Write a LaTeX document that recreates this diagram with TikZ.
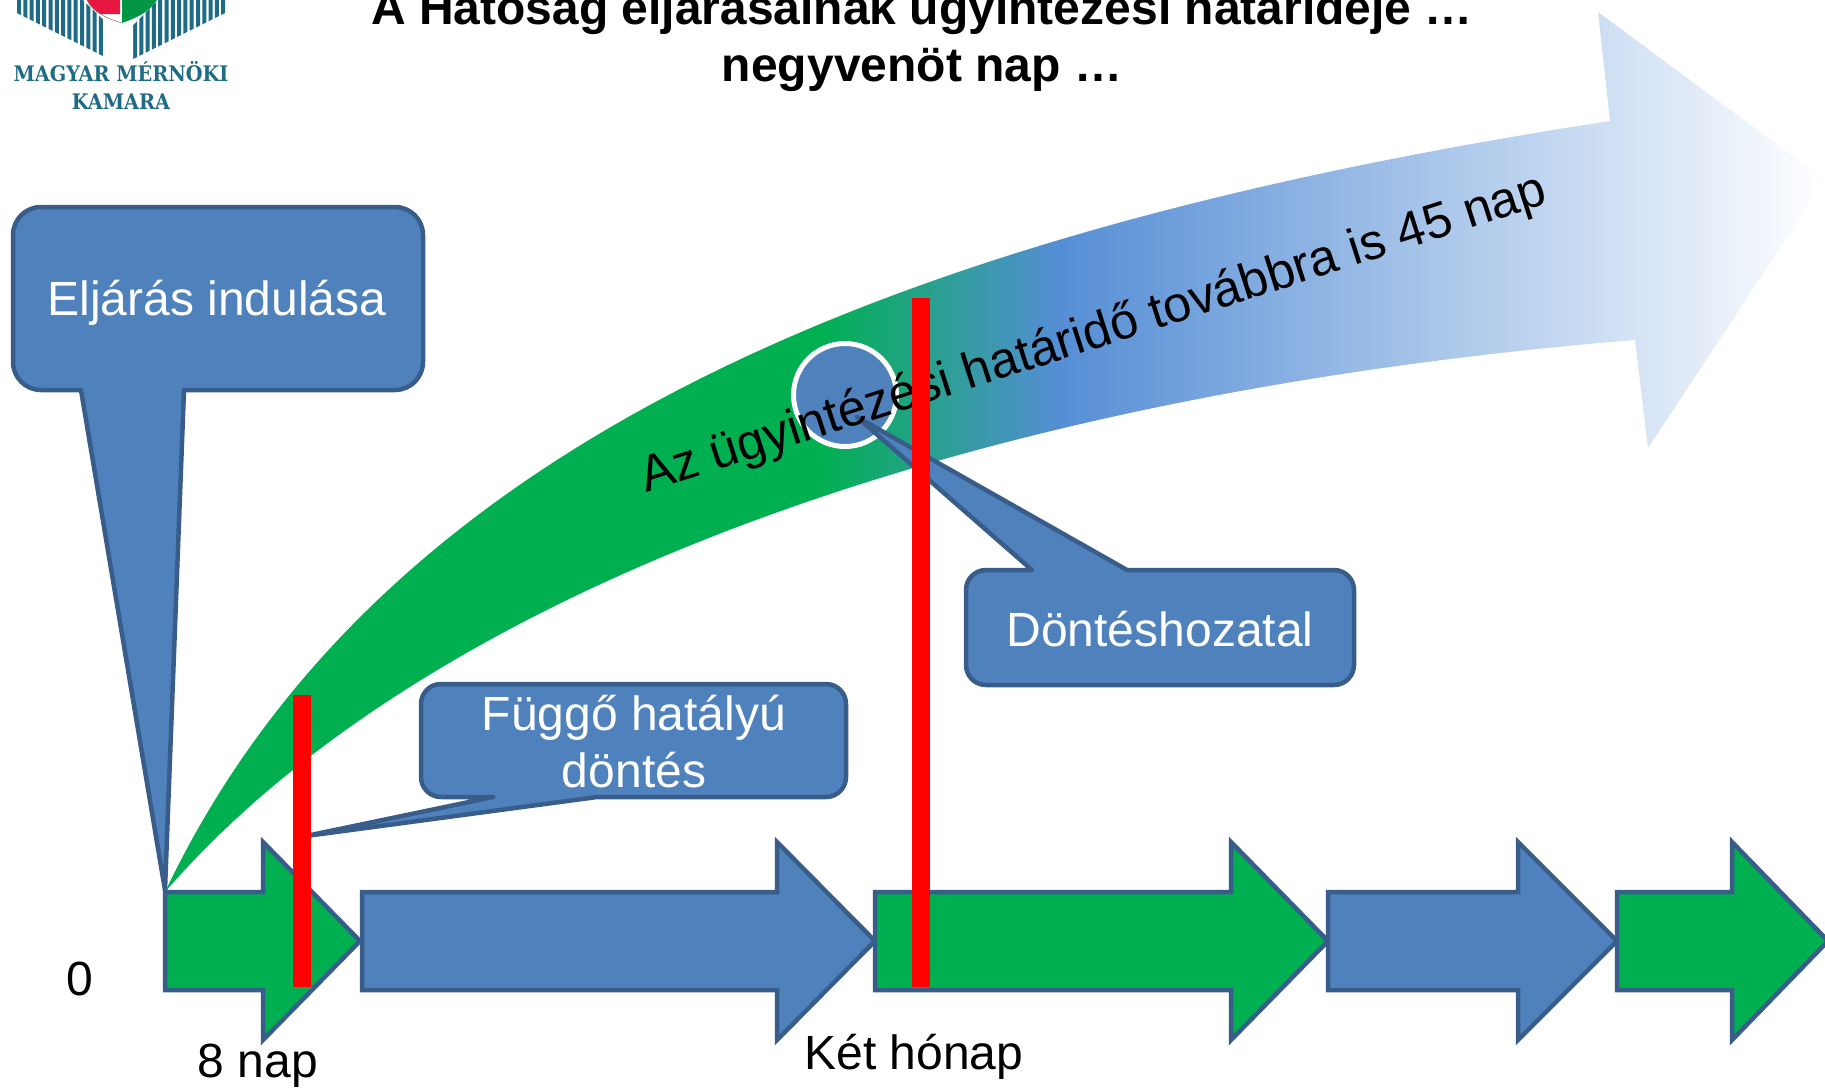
\documentclass[tikz,border=0pt]{standalone}
\usepackage{fontspec}
\setmainfont{Liberation Sans}
\newfontfamily\logofont{DejaVu Serif Condensed}
\usetikzlibrary{positioning}
\definecolor{MMKBlue}{HTML}{4F81BD}
\definecolor{MMKEdge}{HTML}{385D8A}
\definecolor{MMKGreen}{HTML}{00B050}
\definecolor{MMKTeal}{HTML}{1F6A85}
\definecolor{MMKRed}{HTML}{E8173F}
\definecolor{MMKMid}{HTML}{558ED5}
\pgfdeclarehorizontalshading{arrowfade}{100bp}{color(0bp)=(MMKGreen); color(44.7bp)=(MMKGreen); color(51.9bp)=(MMKMid); color(75bp)=(white); color(100bp)=(white)}
\begin{document}
\begin{tikzpicture}[
			x=1pt, y=-1pt,
			callout/.style={draw=MMKEdge, fill=MMKBlue, line width=4.5pt, line join=round},
			blocktext/.style={text=white, align=center, font=\fontsize{48}{57}\selectfont},
			plain/.style={text=black, font=\fontsize{48}{56}\selectfont},
			title/.style={align=center, font=\fontsize{48}{57}\selectfont\bfseries},
			period/.style={draw=MMKEdge, line width=4.5pt, miter limit=10},
			redbar/.style={fill=red},
			stripe/.style={fill=MMKTeal},
			logotext/.style={text=MMKTeal, font=\logofont\bfseries\fontsize{21.4}{26}\selectfont}
			]
			\useasboundingbox (0,0) rectangle (1825,1087);
			\begin{scope}
			\clip (0,0) rectangle (1825,1087);
			% Logo
			\foreach \sx in {17,23.3,...,105} {
				\fill[stripe] (\sx,0) -- (\sx+4,0) -- (\sx+4,{13+(\sx+4-17)*0.5}) -- (\sx,{13+(\sx-17)*0.5}) -- cycle;
			}
			\foreach \sx in {133,139.3,...,222} {
				\fill[stripe] (\sx,0) -- (\sx+4,0) -- (\sx+4,{59-(\sx+4-133)*0.5}) -- (\sx,{59-(\sx-133)*0.5}) -- cycle;
			}
			\fill[white] (83,0) -- (109,25) -- (109,62) -- (133,62) -- (133,25) -- (158,0) -- cycle;
			\fill[MMKRed] (87,0) .. controls (90,6) and (94,10) .. (100,14) -- (120,14) -- (120,0) -- cycle;
			\fill[MMKGreen!85!black] (122,0) -- (157,0) .. controls (150,12) and (136,18) .. (122,23) -- cycle;
			\draw[gray, line width=.6pt] (87,0) .. controls (92,12) and (108,19) .. (122,23);
			\node (logotop) [logotext] at (121,72) {MAGYAR MÉRNÖKI};
			\node (logobottom) [logotext] at (121,102) {KAMARA};
			
			% Title
			\node (title) [title] at (922,40) {A Hatóság eljárásainak ügyintézési határideje …\\negyvenöt nap …};
			
			% Curved arrow
			\path[shade, shading=arrowfade] (165,892) .. controls (380,440) and (900,230) .. (1610,121) -- (1598,12) -- (1825,180) -- (1648,448) -- (1635,340) .. controls (900,400) and (400,620) .. (165,892) -- cycle;
			\node (decision) [circle, draw=white, fill=MMKBlue, line width=5pt, minimum size=103pt] at (845,395) {};
			
			% Callouts
			\draw[callout] (857,417) -- (1032,570) [rounded corners=20pt] -- (966,570) -- (966,685) -- (1354,685) -- (1354,570) [sharp corners] -- (1127,570) -- cycle;
			\node (donteshozatal) [blocktext] at (1160,629) {Döntéshozatal};
			\draw[callout] (165,890) -- (81,390) [rounded corners=28pt] -- (13,390) -- (13,207) -- (423,207) -- (423,390) [sharp corners] -- (184,390) -- cycle;
			\node (indulas) [blocktext] at (217,303) {Eljárás indulása};
			\draw[callout] (306,836) -- (493,797) [rounded corners=20pt] -- (421,797) -- (421,684) -- (846,684) -- (846,797) [sharp corners] -- (597,797) -- cycle;
			\node (fuggo) [blocktext] at (634,742) {Függő hatályú\\döntés};
			
			% Time line
			\foreach \sx/\hx/\tx/\col in {165/263/360/MMKGreen, 362/777/875/MMKBlue, 875/1231/1328/MMKGreen, 1328/1518/1617/MMKBlue, 1617/1732/1828/MMKGreen} {
				\draw[period, fill=\col] (\sx,892) -- (\hx,892) -- (\hx,842) -- (\tx,941) -- (\hx,1040) -- (\hx,990) -- (\sx,990) -- cycle;
			}
			
			% Text along the arrow
			\node (hatarido) [rotate=17.8, anchor=base, font=\fontsize{50.3}{58}\selectfont] at (1098,348) {Az ügyintézési határidő továbbra is 45 nap};
			
			% Red bars
			\fill[redbar] (293,695) rectangle (311,987);
			\fill[redbar] (912,298) rectangle (930,987);
			
			% Labels
			\node (zero) [plain] at (80,979) {0};
			\node (nyolc) [plain] at (258,1066) {8 nap};
			\node (kethonap) [plain] at (914,1057) {Két hónap};
			\end{scope}
		\end{tikzpicture}
\end{document}
